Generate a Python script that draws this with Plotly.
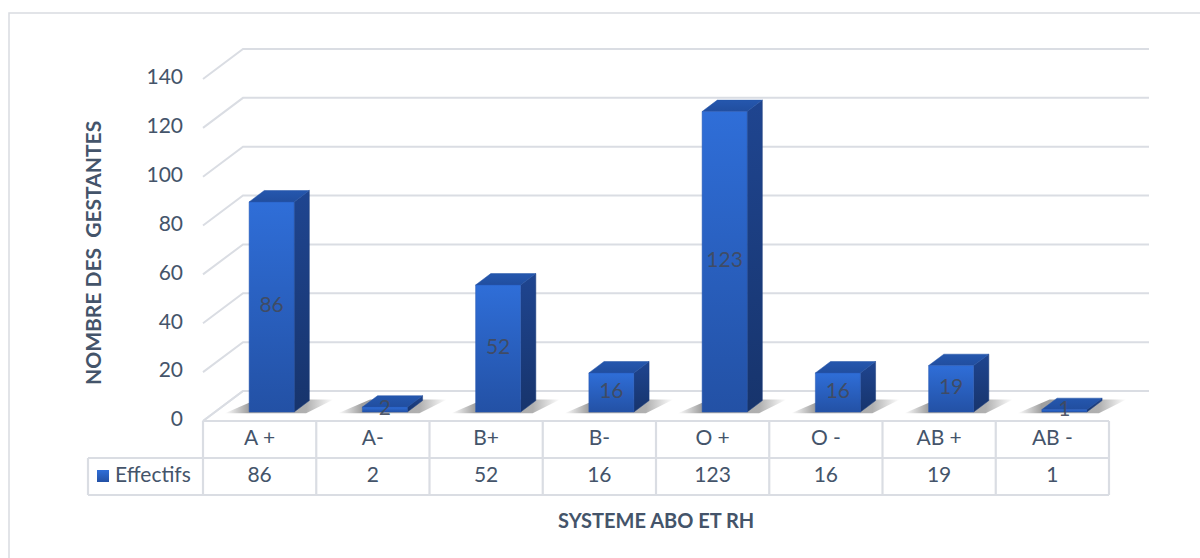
import plotly.graph_objects as go

# ---- data -------------------------------------------------------------
groupes = ["A +", "A-", "B+", "B-", "O +", "O -", "AB +", "AB -"]
effectifs = [86, 2, 52, 16, 123, 16, 19, 1]
serie = "Effectifs"
graduations = [0, 20, 40, 60, 80, 100, 120, 140]
titre_y = "NOMBRE DES  GESTANTES"
titre_x = "SYSTEME ABO ET RH"

# ---- styling / geometry ----------------------------------------------
W, H = 1200, 558
X0_PX, U_PX = 203.0, 113.25      # left of the category band, px per category
Y0_PX, V_PX = 421.0, 2.443       # floor front edge, px per unit of value
DEPTH_DX, DEPTH_DY = 40.0, 30.0  # oblique projection of the full depth (px)

FONT = "Lato, 'Open Sans', sans-serif"
TXT = "#44546A"
GRID = "#DADDE3"
LBL = "rgba(66,74,92,0.92)"
FS = 21

FRONT = [[0, "#2351A5"], [1, "#2F6ED8"]]
SIDE = [[0, "#17346C"], [1, "#1F4590"]]
TOP = [[0, "#214E9F"], [1, "#2557AE"]]

BAR_HALF = 0.1987      # half bar width in category units
D_FRONT, D_BACK = 0.30, 0.68

xr = [-X0_PX / U_PX, (W - X0_PX) / U_PX]
yr = [(Y0_PX - H) / V_PX, Y0_PX / V_PX]


def px_u(px):
    return (px - X0_PX) / U_PX


def px_v(py):
    return (Y0_PX - py) / V_PX


def du(d):
    return DEPTH_DX * d / U_PX


def dv(d):
    return DEPTH_DY * d / V_PX


n = len(groupes)
fig = go.Figure()

# ---- back wall gridlines (with the oblique part on the left side) ----
gx, gy = [], []
for g in graduations:
    gx += [0, du(1), n + du(1), None]
    gy += [g, g + dv(1), g + dv(1), None]
# floor outline: left slanted edge and front edge
gx += [0, du(1), None, 0, n, None]
gy += [0, dv(1), None, 0, 0, None]
fig.add_trace(go.Scatter(x=gx, y=gy, mode="lines",
                         line=dict(color=GRID, width=2), hoverinfo="skip"))

# ---- soft floor shadows under each column ----------------------------
shadow_scale = [[0, "rgba(80,80,80,0)"], [0.22, "rgba(80,80,80,0.55)"],
                [0.75, "rgba(80,80,80,0.45)"], [1, "rgba(80,80,80,0)"]]
for i, val in enumerate(effectifs):
    c = i + 0.5
    ext = 0.20
    d0, d1 = 0.26, 0.72
    xs = [c - BAR_HALF - ext + du(d0), c + BAR_HALF + ext * 0.6 + du(d0),
          c + BAR_HALF + ext + du(d1), c - BAR_HALF - ext * 0.4 + du(d1),
          c - BAR_HALF - ext + du(d0)]
    ys = [dv(d0), dv(d0), dv(d1), dv(d1), dv(d0)]
    fig.add_trace(go.Scatter(x=xs, y=ys, mode="lines", fill="toself",
                             line=dict(width=0, color="rgba(0,0,0,0)"),
                             fillgradient=dict(type="horizontal",
                                               colorscale=shadow_scale),
                             hoverinfo="skip"))

# ---- 3-D columns: front, side and top faces ---------------------------
for i, val in enumerate(effectifs):
    c = i + 0.5
    uLf, uRf = c - BAR_HALF + du(D_FRONT), c + BAR_HALF + du(D_FRONT)
    uLb, uRb = c - BAR_HALF + du(D_BACK), c + BAR_HALF + du(D_BACK)
    vbf, vbb = dv(D_FRONT), dv(D_BACK)
    vtf, vtb = vbf + val, vbb + val

    # side face
    fig.add_trace(go.Scatter(
        x=[uRf, uRb, uRb, uRf, uRf], y=[vbf, vbb, vtb, vtf, vbf],
        mode="lines", fill="toself", line=dict(width=0.5, color="#1A3C7C"),
        fillgradient=dict(type="vertical", colorscale=SIDE), hoverinfo="skip"))
    # top face
    fig.add_trace(go.Scatter(
        x=[uLf, uRf, uRb, uLb, uLf], y=[vtf, vtf, vtb, vtb, vtf],
        mode="lines", fill="toself", line=dict(width=0.5, color="#2352A6"),
        fillgradient=dict(type="vertical", colorscale=TOP), hoverinfo="skip"))
    # front face
    fig.add_trace(go.Scatter(
        x=[uLf, uRf, uRf, uLf, uLf], y=[vbf, vbf, vtf, vtf, vbf],
        mode="lines", fill="toself", line=dict(width=0.5, color="#2657B0"),
        fillgradient=dict(type="vertical", colorscale=FRONT), hoverinfo="skip"))

# ---- value labels centred on the front faces --------------------------
fig.add_trace(go.Scatter(
    x=[i + 0.5 + du(D_FRONT) for i in range(n)],
    y=[dv(D_FRONT) + v / 2 for v in effectifs],
    mode="text", text=[str(v) for v in effectifs],
    textposition="middle center",
    textfont=dict(family=FONT, size=FS, color=LBL), hoverinfo="skip"))

# ---- value-axis tick labels -------------------------------------------
fig.add_trace(go.Scatter(
    x=[px_u(183)] * len(graduations), y=graduations, mode="text",
    text=[str(g) for g in graduations], textposition="middle left",
    textfont=dict(family=FONT, size=FS, color=TXT), hoverinfo="skip"))

# ---- data table under the plot ----------------------------------------
row1, row2 = px_v(458), px_v(495)
leg_left = px_u(88)
tx, ty = [], []
for k in range(n + 1):
    tx += [k, k, None]
    ty += [0, row2, None]
tx += [leg_left, n, None, leg_left, n, None, leg_left, leg_left, None]
ty += [row1, row1, None, row2, row2, None, row1, row2, None]
fig.add_trace(go.Scatter(x=tx, y=ty, mode="lines",
                         line=dict(color=GRID, width=2.2), hoverinfo="skip"))

fig.add_trace(go.Scatter(
    x=[i + 0.5 for i in range(n)], y=[(0 + row1) / 2] * n, mode="text",
    text=groupes, textposition="middle center",
    textfont=dict(family=FONT, size=FS, color=TXT), hoverinfo="skip"))
fig.add_trace(go.Scatter(
    x=[i + 0.5 for i in range(n)], y=[(row1 + row2) / 2] * n, mode="text",
    text=[str(v) for v in effectifs], textposition="middle center",
    textfont=dict(family=FONT, size=FS, color=TXT), hoverinfo="skip"))

# legend key in the table's first column
kx0, kx1 = px_u(97), px_u(109)
ky0, ky1 = px_v(482), px_v(470)
fig.add_trace(go.Scatter(
    x=[kx0, kx1, kx1, kx0, kx0], y=[ky0, ky0, ky1, ky1, ky0],
    mode="lines", fill="toself", line=dict(width=0, color="#2657B0"),
    fillgradient=dict(type="vertical", colorscale=FRONT), hoverinfo="skip"))
fig.add_trace(go.Scatter(
    x=[px_u(115)], y=[(row1 + row2) / 2], mode="text", text=[serie],
    textposition="middle right",
    textfont=dict(family=FONT, size=FS, color=TXT), hoverinfo="skip"))

# ---- axis titles -------------------------------------------------------
fig.add_annotation(x=px_u(92), y=px_v(253), xref="x", yref="y",
                   text=f"<b>{titre_y}</b>", textangle=-90, showarrow=False,
                   font=dict(family=FONT, size=21, color=TXT))
fig.add_annotation(x=px_u(656), y=px_v(520), xref="x", yref="y",
                   text=f"<b>{titre_x}</b>", showarrow=False,
                   font=dict(family=FONT, size=20, color=TXT))

# ---- chart frame -------------------------------------------------------
fig.add_shape(type="rect", xref="paper", yref="paper",
              x0=9 / W, x1=1.01, y0=-0.05, y1=1 - 13 / H,
              line=dict(color="#D9DCE1", width=1.5), layer="below")

fig.update_layout(
    width=W, height=H, margin=dict(l=0, r=0, t=0, b=0),
    paper_bgcolor="white", plot_bgcolor="white", showlegend=False,
    hovermode=False,
    xaxis=dict(range=xr, visible=False, fixedrange=True),
    yaxis=dict(range=yr, visible=False, fixedrange=True),
)

fig.write_html("out.html")
